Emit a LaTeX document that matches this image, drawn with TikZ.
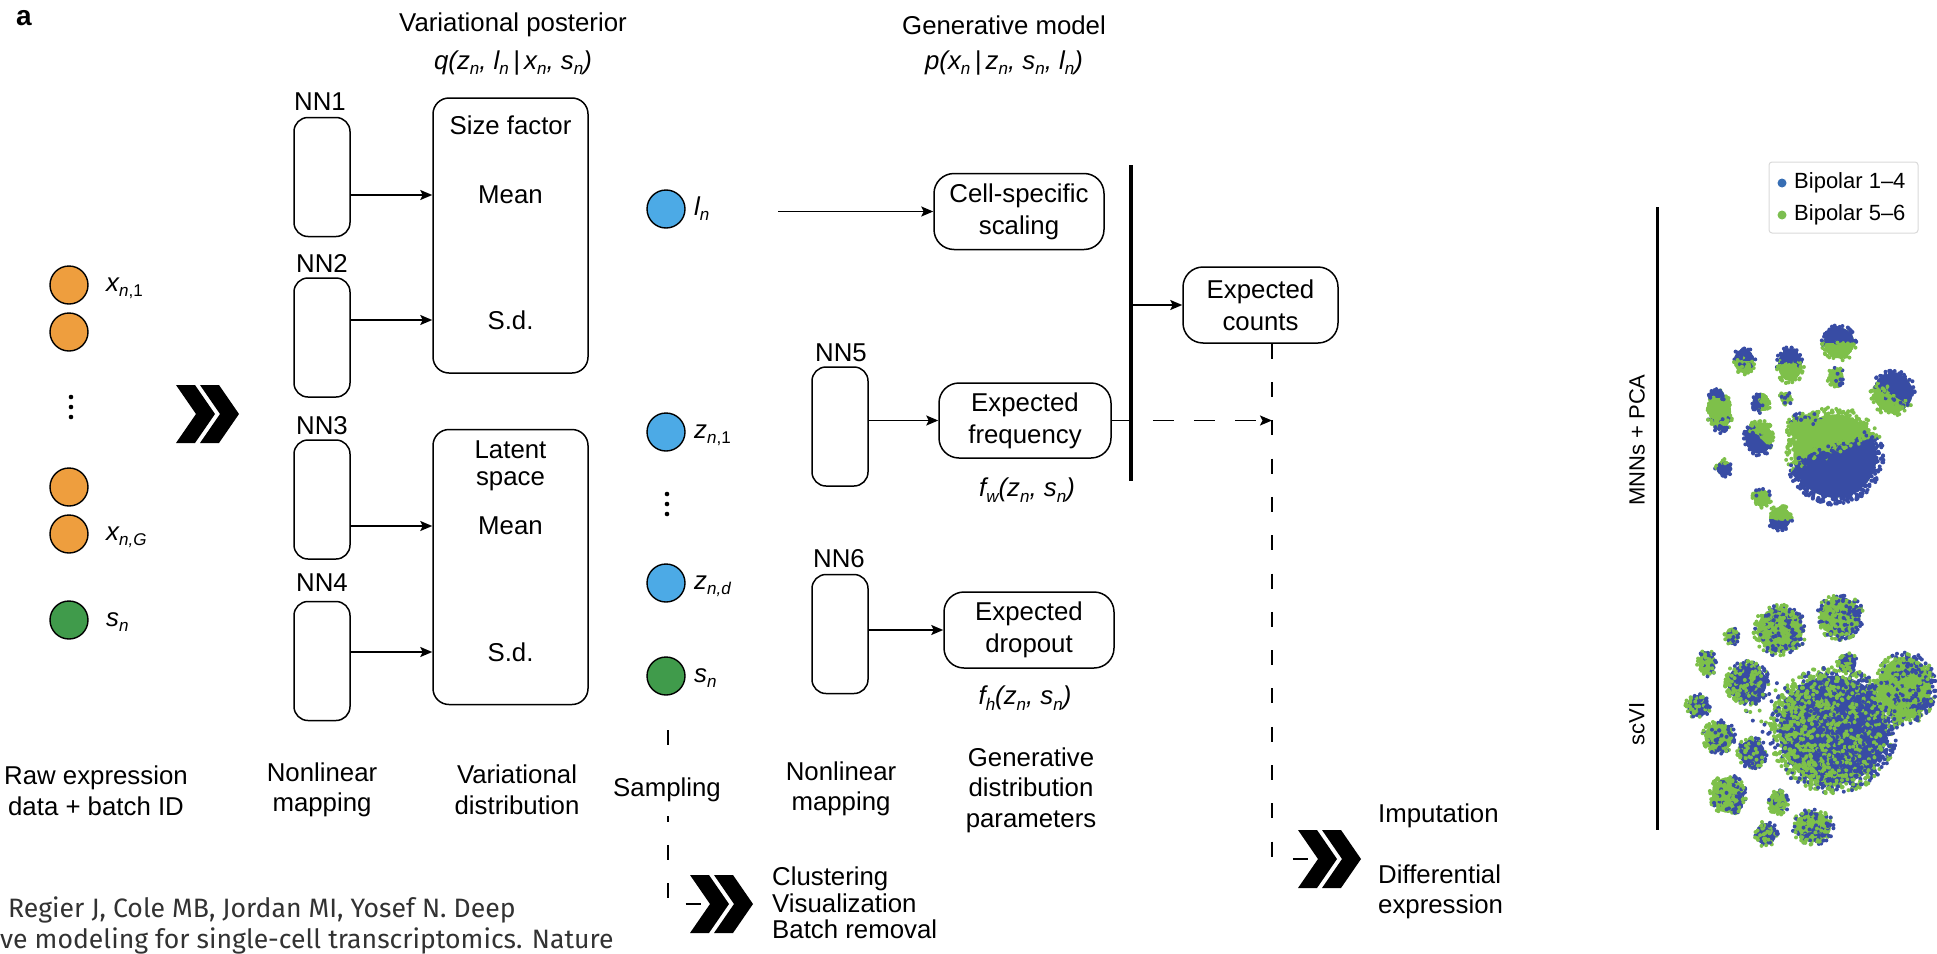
\documentclass[tikz,border=0pt]{standalone}
\usepackage{fontspec}
\setmainfont{Liberation Sans}
\newfontfamily\citefont{Fira Sans}
\usetikzlibrary{arrows.meta}

\definecolor{orng}{RGB}{238,158,62}
\definecolor{bluec}{RGB}{76,170,230}
\definecolor{grnc}{RGB}{64,155,75}
\definecolor{sblue}{RGB}{56,76,164}
\definecolor{sgreen}{RGB}{126,192,74}
\definecolor{lblue}{RGB}{55,110,180}
\definecolor{lgreen}{RGB}{124,190,80}
\definecolor{citegray}{RGB}{50,50,50}

\newcommand{\mainsize}{\fontsize{25.8}{30.5}\selectfont}
\newcommand{\boxsize}{\fontsize{25.8}{32}\selectfont}
\newcommand{\listsize}{\fontsize{25.8}{26.5}\selectfont}
\newcommand{\legsize}{\fontsize{22}{26}\selectfont}
\newcommand{\sbt}[1]{\raisebox{-5.5pt}{\fontsize{17}{17}\selectfont #1}}

% cx cy rx ry n theta t noise base
\newcommand{\scluster}[9]{%
 \ifcase#9\relax
 \or
  \begin{scope}
   \clip (#1,#2) ellipse [x radius={0.85*#3}, y radius={0.85*#4}];
   \fill[sgreen] (#1,#2) ellipse [x radius={0.85*#3}, y radius={0.85*#4}];
   \pgfmathsetmacro\cux{cos(#6)}\pgfmathsetmacro\cuy{sin(#6)}
   \fill[sblue] ({#1+(#7)*#3*\cux-300*\cuy},{#2+(#7)*#4*\cuy+300*\cux}) -- ++({600*\cuy},{-600*\cux}) -- ++({300*\cux},{300*\cuy}) -- ++({-600*\cuy},{600*\cux}) -- cycle;
  \end{scope}
 \or
  \fill[sblue] (#1,#2) ellipse [x radius={0.85*#3}, y radius={0.85*#4}];
 \or
  \fill[sgreen] (#1,#2) ellipse [x radius={0.85*#3}, y radius={0.85*#4}];
 \fi
 \pgfmathtruncatemacro\cn{#5*1.5}%
 \foreach \ck in {1,...,\cn}{%
  \pgfmathsetmacro\cang{360*rnd}%
  \pgfmathsetmacro\crr{sqrt(rnd)}%
  \pgfmathsetmacro\cpr{(\crr*cos(\cang-(#6))+(#8)*(rnd-0.5))>(#7)?1:0}%
  \ifdim\cpr pt>0.5pt \def\ccol{sblue}\else\def\ccol{sgreen}\fi
  \fill[\ccol] ({#1+#3*\crr*cos(\cang)},{#2+#4*\crr*sin(\cang)}) circle[radius=2];
 }}

\tikzset{
  nnbox/.style={draw, line width=1.5pt, rounded corners=14pt, minimum width=56pt, minimum height=119pt},
  bigbox/.style={draw, line width=1.5pt, rounded corners=16pt, minimum width=155pt, minimum height=275pt},
  genbox/.style={draw, line width=1.5pt, rounded corners=20pt, minimum height=76pt, align=center, font=\boxsize},
  var/.style={circle, draw, line width=1.4pt, minimum size=38pt},
  lbl/.style={anchor=base west},
  arr/.style={->, line width=1.8pt},
  dashline/.style={line width=1.6pt, dash pattern=on 15pt off 23.3pt},
  dasharr/.style={->, line width=1.6pt, dash pattern=on 21pt off 20pt},
  chev/.pic={
    \fill (0,0) -- (19,0) -- (39,29) -- (19,58) -- (0,58) -- (20,29) -- cycle;
    \fill (24,0) -- (43,0) -- (63,29) -- (43,58) -- (24,58) -- (44,29) -- cycle;
    \coordinate (-notch) at (20,29);
  }
}

\begin{document}
\begin{tikzpicture}[x=1pt, y=-1pt, >={Stealth[length=12pt,width=10pt,inset=2.5pt]},
  every node/.style={font=\mainsize, inner sep=0pt}]
\useasboundingbox (0,0) rectangle (1937,953);
\pgfmathsetseed{7}

% ---------- header ----------
\node[font=\fontsize{28}{28}\selectfont\bfseries] (lab) at (24,18) {a};
\node (vp) at (513,25) {Variational posterior};
\node (vpf) at (513,63) {\itshape q(z\sbt{n}, l\sbt{n}\,|\,x\sbt{n}, s\sbt{n})};
\node (gm) at (1004,25) {Generative model};
\node (gmf) at (1004,63) {\itshape p(x\sbt{n}\,|\,z\sbt{n}, s\sbt{n}, l\sbt{n})};

% ---------- column 1: data ----------
\node[var, fill=orng] (x1) at (69,285) {};
\node[var, fill=orng] (x2) at (69,332) {};
\node[var, fill=orng] (x3) at (69,487) {};
\node[var, fill=orng] (xG) at (69,534) {};
\node[var, fill=grnc] (s1) at (69,620) {};
\foreach \dy in {-10,0,10} \fill (71,407+\dy) circle[radius=2.3];
\node[lbl] (lx1) at (106,291) {\itshape x\sbt{n\upshape,1}};
\node[lbl] (lxG) at (106,540) {\itshape x\sbt{n,G}};
\node[lbl] (ls1) at (106,626) {\itshape s\sbt{n}};
\pic (chL) at (176,385) {chev};

% ---------- encoder ----------
\node[nnbox] (nn1) at (322,177) {};
\node[nnbox] (nn2) at (322,337.5) {};
\node[nnbox] (nn3) at (322,499.5) {};
\node[nnbox] (nn4) at (322,661) {};
\node (nl1) at (320,102) {NN1};
\node (nl2) at (322,263) {NN2};
\node (nl3) at (322,426) {NN3};
\node (nl4) at (322,583) {NN4};

\node[bigbox] (sf) at (510.5,235.5) {};
\node (sft) at (510.5,125) {Size factor};
\node (m1) at (510.5,195) {Mean};
\node (sd1) at (510.5,320) {S.d.};
\node[bigbox] (lat) at (510.5,567) {};
\node[align=center, font=\fontsize{25.8}{27}\selectfont] (latt) at (510.5,466) {Latent\\space};
\node (m2) at (510.5,526) {Mean};
\node (sd2) at (510.5,652) {S.d.};

\draw[arr] (nn1.east |- m1) -- (sf.west |- m1);
\draw[arr] (nn2.east |- sd1) -- (sf.west |- sd1);
\draw[arr] (nn3.east |- m2) -- (lat.west |- m2);
\draw[arr] (nn4.east |- sd2) -- (lat.west |- sd2);

% ---------- sampling ----------
\node[var, fill=bluec] (ln) at (666,209) {};
\node[var, fill=bluec] (z1) at (666,432) {};
\node[var, fill=bluec] (zd) at (666,583) {};
\node[var, fill=grnc] (s2) at (666,676) {};
\foreach \dy in {-10,0,10} \fill (667,504+\dy) circle[radius=2.3];
\node[lbl] (lln) at (694,215) {\itshape l\sbt{n}};
\node[lbl] (lz1) at (694,438) {\itshape z\sbt{n\upshape,1}};
\node[lbl] (lzd) at (694,589) {\itshape z\sbt{n,d}};
\node[lbl] (ls2) at (694,682) {\itshape s\sbt{n}};

% ---------- decoder ----------
\node[genbox, minimum width=170pt] (cell) at (1019,211.5) {Cell-specific\\scaling};
\path (cell.west) ++(-155,0) coordinate (lnTail);
\draw[arr] (lnTail) -- (cell.west);

\node[nnbox] (nn5) at (840,426.5) {};
\node[nnbox] (nn6) at (840,634) {};
\node (nl5) at (841,353) {NN5};
\node (nl6) at (839,559) {NN6};
\node[genbox, minimum width=172pt, minimum height=75pt] (freq) at (1025,420.5) {Expected\\frequency};
\node[genbox, minimum width=170pt] (drop) at (1029,630) {Expected\\dropout};
\draw[arr] (nn5.east |- freq.west) -- (freq.west);
\draw[arr] (nn6.east |- drop.west) -- (drop.west);
\node (fw) at (1027,490) {\itshape f\sbt{w}(z\sbt{n}, s\sbt{n})};
\node (fh) at (1025,698) {\itshape f\sbt{h}(z\sbt{n}, s\sbt{n})};

\coordinate (tlTop) at (1131,165);
\coordinate (tlBot) at (1131,481);
\draw[line width=4pt] (tlTop) -- (tlBot);
\node[genbox, minimum width=155pt] (counts) at (1260.5,305) {Expected\\counts};
\draw[arr] (tlTop |- counts.west) -- (counts.west);

\coordinate (dl) at ([xshift=11.5pt]counts.south);
\pic (chR) at (1298,830) {chev};
\draw[dashline] (dl) |- (chR-notch);
\draw[dasharr] (freq.east) -- (dl |- freq.east);

% sampling output
\coordinate (sampTop) at (668,730);
\pic (chS) at (690,875) {chev};
\draw[dashline] (sampTop) |- (chS-notch);

% ---------- bottom labels ----------
\node[align=center] (raw) at (96,791) {Raw expression\\data + batch ID};
\node[align=center] (nlm1) at (322,790) {Nonlinear\\mapping};
\node[align=center] (vd) at (517,790) {Variational\\distribution};
\node[fill=white, inner xsep=3pt, inner ysep=14pt] (samp) at (667,790) {Sampling};
\node[align=center] (nlm2) at (841,789) {Nonlinear\\mapping};
\node[align=center] (gdp) at (1031,790) {Generative\\distribution\\parameters};
\node[anchor=west, align=left, font=\listsize] (clu) at (772,903) {Clustering\\Visualization\\Batch removal};
\node[anchor=west] (imp) at (1378,816) {Imputation};
\node[anchor=west, align=left] (dif) at (1378,892) {Differential\\expression};

% citation (clipped in the original)
\node[anchor=west, font=\fontsize{26.6}{30}\citefont, text=citegray] (cite1) at (8,910) {Regier J, Cole MB, Jordan MI, Yosef N. Deep};
\node[anchor=west, font=\fontsize{26.6}{30}\citefont, text=citegray] (cite2) at (0,941) {ve modeling for single-cell transcriptomics. Nature};

% ---------- right panel ----------
\coordinate (sepTop) at (1657,207);
\coordinate (sepBot) at (1657,830);
\draw[line width=3pt] (sepTop) -- (sepBot);
\node[rotate=90, font=\legsize] (mnn) at (1637,440) {MNNs + PCA};
\node[rotate=90, font=\legsize] (scvi) at (1637,724) {scVI};

\node[draw=black!15, line width=1pt, rounded corners=3pt, minimum width=149pt, minimum height=71pt] (legend) at (1843.5,197.5) {};
\fill[lblue] (1782,183) circle[radius=4.5];
\fill[lgreen] (1782,215) circle[radius=4.5];
\node[anchor=west, font=\legsize] (leg1) at (1794,183) {Bipolar 1–4};
\node[anchor=west, font=\legsize] (leg2) at (1794,215) {Bipolar 5–6};

% MNNs + PCA scatter
\scluster{1835}{456}{49}{49}{650}{70}{-0.15}{0.3}{1}
\scluster{1806}{428}{20}{16}{90}{-100}{0.55}{1.0}{3}
\scluster{1839}{343}{18}{18}{80}{-90}{0}{0.4}{1}
\scluster{1836}{377}{9}{10}{25}{0}{0.2}{1.5}{3}
\scluster{1893}{393}{23}{23}{135}{-60}{-0.1}{0.6}{1}
\scluster{1790}{365}{14}{19}{65}{-90}{0.05}{0.5}{1}
\scluster{1744}{361}{12}{14}{40}{-90}{0}{1.2}{1}
\scluster{1720}{412}{13}{22}{75}{90}{0.45}{0.6}{3}
\scluster{1717}{396}{9}{8}{16}{-90}{-0.3}{1}{1}
\scluster{1761}{402}{10}{11}{25}{180}{0}{0.8}{1}
\scluster{1786}{398}{7}{7}{10}{0}{0}{2}{3}
\scluster{1759}{438}{16}{18}{70}{135}{-0.05}{0.5}{1}
\scluster{1724}{468}{9}{9}{18}{90}{-0.4}{1}{1}
\scluster{1762}{498}{10}{10}{22}{-90}{0.5}{1}{3}
\scluster{1780}{518}{13}{13}{40}{90}{0.05}{0.5}{1}

% scVI scatter
\scluster{1833}{730}{64}{64}{1100}{0}{0.25}{3}{2}
\scluster{1847}{663}{11}{11}{28}{0}{0}{3}{2}
\scluster{1780}{630}{27}{26}{180}{0}{0.3}{3}{3}
\scluster{1840}{617}{24}{23}{140}{0}{0.2}{3}{3}
\scluster{1905}{688}{31}{37}{300}{0}{0.25}{3}{3}
\scluster{1732}{636}{8}{10}{18}{0}{0}{3}{3}
\scluster{1707}{663}{10}{14}{33}{0}{0.2}{3}{3}
\scluster{1747}{683}{23}{22}{130}{0}{0}{3}{2}
\scluster{1698}{706}{13}{13}{40}{0}{0.2}{3}{2}
\scluster{1719}{737}{17}{17}{72}{0}{0.3}{3}{3}
\scluster{1752}{753}{15}{16}{59}{0}{0}{3}{2}
\scluster{1728}{795}{19}{21}{100}{0}{0.3}{3}{3}
\scluster{1778}{802}{11}{13}{34}{0}{0.4}{3}{3}
\scluster{1813}{827}{21}{18}{95}{0}{0.1}{3}{3}
\scluster{1766}{834}{12}{13}{37}{0}{0}{3}{2}
\scluster{1768}{705}{30}{30}{20}{0}{0}{3}{0}
\end{tikzpicture}
\end{document}
